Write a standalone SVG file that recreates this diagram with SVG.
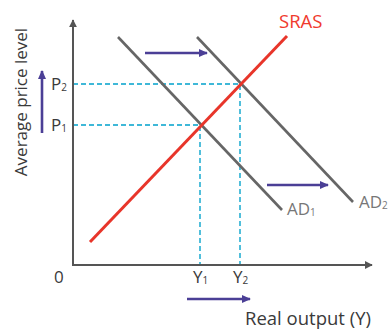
<svg xmlns="http://www.w3.org/2000/svg" width="390" height="329" viewBox="0 0 390 329">
<defs>
<marker id="ax" viewBox="0 0 10 10" refX="9" refY="5" markerWidth="4" markerHeight="4" orient="auto"><path d="M0,0 L10,5 L0,10 z" fill="#555"/></marker>
<marker id="pa" viewBox="0 0 10 10" refX="9" refY="5" markerWidth="3.6" markerHeight="3.6" orient="auto"><path d="M0,0.5 L10,5 L0,9.5 z" fill="#4b3f96"/></marker>
<style>
.t{font-family:"Open Sans","Liberation Sans",sans-serif;font-size:17px;fill:#3a3a3a}
.b{font-size:18.5px}
.s{font-size:10px}
.g{fill:#777}
.dash{stroke:#3fb8d8;stroke-width:1.8;stroke-dasharray:5 3;fill:none}
.ad{stroke:#666;stroke-width:2.6;fill:none}
.sh{stroke:#4b3f96;stroke-width:2.6;fill:none;marker-end:url(#pa)}
</style>
</defs>
<rect width="390" height="329" fill="#fff"/>
<g id="connectors">
<path d="M73,125 H200 V265" class="dash"/>
<path d="M73,84 H240 V265" class="dash"/>
<line x1="118" y1="37" x2="282" y2="210" class="ad"/>
<line x1="197" y1="37" x2="353" y2="202" class="ad"/>
<line x1="90" y1="242" x2="287" y2="36" stroke="#e8352a" stroke-width="3"/>
<line x1="42" y1="133" x2="42" y2="71" class="sh"/>
<line x1="145" y1="53" x2="207" y2="53" class="sh"/>
<line x1="267" y1="185" x2="328" y2="185" class="sh"/>
<line x1="187" y1="299" x2="250" y2="299" class="sh"/>
</g>
<g id="axes">
<path d="M73,265 V20" stroke="#555" stroke-width="2" fill="none" marker-end="url(#ax)"/>
<path d="M72,265 H372" stroke="#555" stroke-width="2" fill="none" marker-end="url(#ax)"/>
</g>
<g id="labels">
<text class="t b" x="279" y="28" style="fill:#f03a2e">SRAS</text>
<text class="t" transform="translate(27,102) rotate(-90)" text-anchor="middle">Average price level</text>
<text class="t" x="51" y="90">P<tspan class="s" dy="1">2</tspan></text>
<text class="t" x="51" y="131">P<tspan class="s" dy="1">1</tspan></text>
<text class="t" x="54" y="283">0</text>
<text class="t" x="193" y="283">Y<tspan class="s" dy="1">1</tspan></text>
<text class="t" x="233" y="283">Y<tspan class="s" dy="1">2</tspan></text>
<text class="t g" x="287" y="215">AD<tspan class="s" dy="1">1</tspan></text>
<text class="t g" x="359" y="208">AD<tspan class="s" dy="1">2</tspan></text>
<text class="t b" x="245" y="325">Real output (Y)</text>
</g>
</svg>
